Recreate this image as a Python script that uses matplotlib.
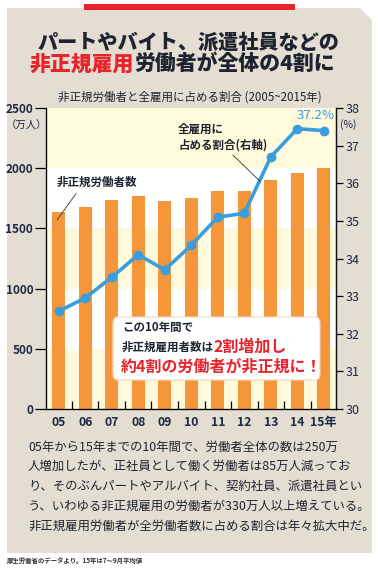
import matplotlib.pyplot as plt
from matplotlib.patches import Polygon, Rectangle, FancyBboxPatch
from matplotlib.text import Annotation
import numpy as np

plt.rcParams['font.family'] = ['Noto Sans CJK JP', 'DejaVu Sans']

# データ（厚生労働省）
years = ['05', '06', '07', '08', '09', '10', '11', '12', '13', '14', '15年']
workers = [1634, 1678, 1735, 1765, 1727, 1756, 1812, 1813, 1906, 1962, 2003]  # 万人
share = [32.6, 32.95, 33.5, 34.1, 33.7, 34.35, 35.1, 35.2, 36.7, 37.45, 37.4]  # %
share_label = '37.2%'
left_ticks = [0, 500, 1000, 1500, 2000, 2500]
right_ticks = [30, 31, 32, 33, 34, 35, 36, 37, 38]

body_lines = [
    '05年から15年までの10年間で、労働者全体の数は250万',
    '人増加したが、正社員として働く労働者は85万人減ってお',
    'り、そのぶんパートやアルバイト、契約社員、派遣社員とい',
    'う、いわゆる非正規雇用の労働者が330万人以上増えている。',
    '非正規雇用労働者が全労働者数に占める割合は年々拡大中だ。',
]

W, H = 378, 573
beige = '#e4ded2'
orange = '#f6963a'
blue = '#3a9ede'
red = '#e8232c'
ink = '#1e2330'
navy = '#1d2845'
band_yellow = '#fffadb'


def fx(px):
    return px / W


def fy(py):
    return 1 - py / H


def after(fig, prev, text, **kw):
    # 前のテキストの右隣に続けて置く
    a = Annotation(text, xy=(1, 0.5), xycoords=prev, ha='left', va='center',
                   annotation_clip=False, **kw)
    fig.add_artist(a)
    return a


fig = plt.figure(figsize=(W / 100, H / 100), dpi=100)
fig.patch.set_facecolor('white')

# 背景パネル（右上の角を落とす）
panel = Polygon([(fx(7), fy(8)), (fx(360), fy(8)), (fx(372), fy(20)),
                 (fx(372), fy(553)), (fx(7), fy(553))],
                closed=True, transform=fig.transFigure, facecolor=beige,
                edgecolor='none', zorder=-2)
fig.patches.append(panel)
fig.patches.append(Rectangle((fx(84), fy(10)), fx(295) - fx(84), fy(4) - fy(10),
                             transform=fig.transFigure, facecolor=red,
                             edgecolor='none', zorder=-1))

# タイトル
fig.text(fx(188), fy(43), 'パートやバイト、派遣社員などの', ha='center', va='center',
         fontsize=14.5, fontweight='heavy', color=ink)
t2 = fig.text(fx(30), fy(64), '非正規雇用', ha='left', va='center',
              fontsize=15, fontweight='heavy', color=red)
after(fig, t2, '労働者が全体の4割に', fontsize=15, fontweight='heavy', color=ink)

fig.text(fx(190), fy(97), '非正規労働者と全雇用に占める割合 (2005~2015年)', ha='center',
         va='center', fontsize=8.3, color=ink)

# グラフ本体
ax = fig.add_axes([fx(45.7), fy(409), fx(336) - fx(45.7), fy(108) - fy(409)])
ax.set_facecolor('white')
x = np.arange(len(years))
bands = [(0, 500, band_yellow), (500, 1000, 'white'), (1000, 1500, band_yellow),
         (1500, 2000, 'white'), (2000, 2500, band_yellow)]
for lo, hi, c in bands:
    ax.axhspan(lo, hi, color=c, zorder=0, lw=0)
ax.bar(x, workers, width=0.49, color=orange, zorder=2)
ax.set_xlim(-0.49, 10.46)
ax.set_ylim(0, 2500)
ax.set_yticks(left_ticks)
ax.set_yticklabels([str(v) for v in left_ticks], fontsize=8.5, fontweight='bold', color=navy)
ax.tick_params(axis='y', direction='out', length=8, width=0.9, pad=1)
ax.set_xticks(x)
ax.set_xticklabels(years, fontsize=8.8, fontweight='bold', color=navy)
ax.tick_params(axis='x', length=0, pad=5)
ax.set_xticks(x[:-1] + 0.5, minor=True)
ax.tick_params(axis='x', which='minor', direction='in', length=6, width=0.9)
ax.spines['top'].set_visible(False)
for s in ['left', 'bottom', 'right']:
    ax.spines[s].set_linewidth(0.9)
    ax.spines[s].set_color('#111111')

ax2 = ax.twinx()
ax2.plot(x, share, color=blue, lw=2.6, marker='o', ms=6, zorder=3, clip_on=False)
ax2.set_ylim(30, 38)
ax2.set_yticks(right_ticks)
ax2.set_yticklabels([str(v) for v in right_ticks], fontsize=9, color=navy)
ax2.tick_params(axis='y', direction='out', length=5, width=0.9, pad=2)
ax2.spines['top'].set_visible(False)
ax2.spines['right'].set_linewidth(0.9)
ax2.spines['right'].set_color('#111111')

# 単位
fig.text(fx(27), fy(126), '（万人）', ha='center', va='center', fontsize=7.5, color=navy)
fig.text(fx(348), fy(125), '(%)', ha='center', va='center', fontsize=7.5, color=navy)

# 注記
ax.annotate('非正規労働者数', xy=(-0.06, 1570), xytext=(-0.06, 1885),
            ha='left', va='center', fontsize=8.3, fontweight='bold', color=ink,
            arrowprops=dict(arrowstyle='-', lw=0.6, color='#333333', relpos=(0.28, 0),
                            shrinkA=2, shrinkB=0), zorder=4)
ax2.annotate('全雇用に\n占める割合(右軸)', xy=(7.6, 36.05), xytext=(4.5, 37.23),
             ha='left', va='center', fontsize=8.3, fontweight='bold', color=ink,
             linespacing=1.25,
             arrowprops=dict(arrowstyle='-', lw=0.6, color='#333333', relpos=(0.57, 0),
                             shrinkA=1, shrinkB=0), zorder=4)
ax2.annotate(share_label, xy=(x[-1], share[-1]), xytext=(8, 6),
             textcoords='offset points', ha='right', va='bottom', fontsize=9.5,
             color=blue, annotation_clip=False)

# 吹き出し
box = FancyBboxPatch((fx(113), fy(380)), fx(320) - fx(113), fy(317) - fy(380),
                     boxstyle='round,pad=0,rounding_size=0.012',
                     transform=fig.transFigure, facecolor='white',
                     edgecolor='#f3d7c4', lw=0.8, zorder=5)
fig.patches.append(box)
fig.text(fx(122), fy(328), 'この10年間で', ha='left', va='center', fontsize=8.3,
         fontweight='bold', color=ink, zorder=6)
b1 = fig.text(fx(122), fy(347), '非正規雇用者数は', ha='left', va='center', fontsize=8.3,
              fontweight='bold', color=ink, zorder=6)
b2 = after(fig, b1, '2割増加し', fontsize=11.5, fontweight='bold', color=red)
b2.set_zorder(6)
fig.text(fx(121), fy(367), '約4割の労働者が非正規に！', ha='left', va='center',
         fontsize=11.5, fontweight='bold', color=red, zorder=6)

# 本文
for i, line in enumerate(body_lines):
    fig.text(fx(28), fy(447 + i * 19.7), line, ha='left', va='center', fontsize=8.95,
             color=ink)

fig.text(fx(7), fy(560), '厚生労働省のデータより。15年は7～9月平均値', ha='left', va='center',
         fontsize=4.6, fontweight='bold', color='#333333')

fig.savefig('out.png', dpi=100, facecolor=fig.get_facecolor())
